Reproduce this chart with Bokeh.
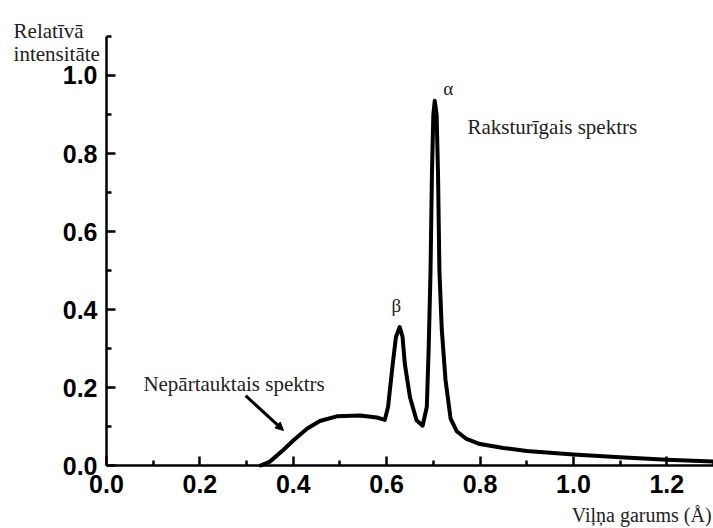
from bokeh.plotting import figure
from bokeh.models import (Label, Arrow, NormalHead, FixedTicker, PrintfTickFormatter,
                          LinearAxis)
from bokeh.embed import file_html
from bokeh.resources import INLINE

# X-ray tube emission spectrum: continuous part plus the characteristic beta and alpha lines
wavelength = [0.33, 0.35, 0.378, 0.40, 0.43, 0.457, 0.493, 0.543, 0.579, 0.596,
              0.603, 0.613, 0.620, 0.628, 0.634, 0.639, 0.650, 0.664, 0.677, 0.686,
              0.690, 0.694, 0.697, 0.700, 0.703, 0.707, 0.710, 0.713, 0.718, 0.726,
              0.737, 0.750, 0.771, 0.80, 0.85, 0.90, 1.0, 1.1, 1.2, 1.3]
intensity = [0.0, 0.010, 0.039, 0.064, 0.095, 0.114, 0.126, 0.128, 0.123, 0.117,
             0.150, 0.260, 0.330, 0.355, 0.330, 0.260, 0.175, 0.116, 0.102, 0.150,
             0.300, 0.500, 0.750, 0.900, 0.935, 0.900, 0.750, 0.500, 0.350, 0.220,
             0.120, 0.088, 0.068, 0.055, 0.045, 0.037, 0.028, 0.021, 0.015, 0.010]

x_major = [0.0, 0.2, 0.4, 0.6, 0.8, 1.0, 1.2]
x_minor = [0.1, 0.3, 0.5, 0.7, 0.9, 1.1, 1.3]
y_major = [0.0, 0.2, 0.4, 0.6, 0.8, 1.0]
y_minor = [0.1, 0.3, 0.5, 0.7, 0.9, 1.1]

SERIF = "Liberation Serif"
SANS = "Liberation Sans"

# The frame fills the canvas so that the titles around the axes stay inside it;
# the axes are pinned at zero and limited to the data extent.
p = figure(width=713, height=528, x_range=(-0.227, 1.3), y_range=(-0.1615, 1.1923),
           output_backend="svg", toolbar_location=None,
           x_axis_location=None, y_axis_location=None,
           min_border=0)
p.outline_line_color = None
p.grid.visible = False
p.background_fill_color = "white"
p.border_fill_color = "white"

xaxis = LinearAxis(fixed_location=0, bounds=(0, 1.3),
                   ticker=FixedTicker(ticks=x_major, minor_ticks=x_minor))
yaxis = LinearAxis(fixed_location=0, bounds=(0, 1.1),
                   ticker=FixedTicker(ticks=y_major, minor_ticks=y_minor))
for ax in (xaxis, yaxis):
    ax.formatter = PrintfTickFormatter(format="%.1f")
    ax.axis_line_width = 2.5
    ax.axis_line_color = "black"
    ax.major_tick_line_width = 2.5
    ax.minor_tick_line_width = 2.5
    ax.major_tick_line_color = "black"
    ax.minor_tick_line_color = "black"
    ax.major_tick_in = 9
    ax.major_tick_out = 0
    ax.minor_tick_in = 5
    ax.minor_tick_out = 0
    ax.major_label_text_font = SANS
    ax.major_label_text_font_style = "bold"
    ax.major_label_text_font_size = "25px"
    ax.major_label_text_color = "black"
    ax.major_label_standoff = 9
p.add_layout(xaxis, "below")
p.add_layout(yaxis, "left")

p.line(wavelength, intensity, line_width=4, line_color="black",
       line_join="round", line_cap="round")

def add_text(x, y, text, align="left", size="21px", baseline="alphabetic"):
    p.add_layout(Label(x=x, y=y, text=text, text_font=SERIF, text_font_size=size,
                       text_color="#222222", text_align=align,
                       text_baseline=baseline))

add_text(-0.199, 1.113, "Relatīvā")
add_text(-0.199, 1.056, "intensitāte")
add_text(0.773, 0.867, "Raksturīgais spektrs")
add_text(0.079, 0.208, "Nepārtauktais spektrs")
add_text(0.732, 0.967, "α", align="center", size="19px")
add_text(0.621, 0.41, "β", align="center", size="19px")
# wavelength title sits in the bottom-right corner, just above the canvas edge
add_text(1.296, -0.1555, "Viļņa garums (Å)", align="right", size="20px",
         baseline="bottom")

p.add_layout(Arrow(x_start=0.298, y_start=0.179, x_end=0.379, y_end=0.09,
                   line_width=3, line_color="black",
                   end=NormalHead(size=8, fill_color="black", line_color="black")))

open("out.html", "w").write(file_html(p, INLINE))
